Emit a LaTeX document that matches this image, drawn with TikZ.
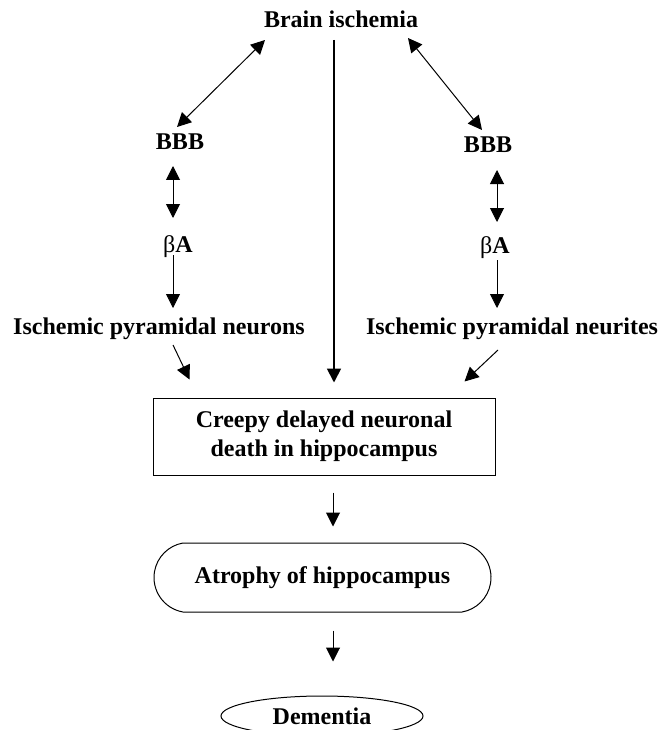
\documentclass[tikz,border=0pt]{standalone}
\usepackage{fontspec}
\setmainfont{Liberation Serif}
\usetikzlibrary{arrows.meta, shapes.geometric, shapes.misc}

\begin{document}
\begin{tikzpicture}[
    x=1pt, y=-1pt,
    font=\fontsize{24}{29}\selectfont\bfseries,
    label/.style={inner sep=0pt, anchor=base},
    box/.style={rectangle, draw, line width=1pt, minimum width=342pt, minimum height=77pt, align=center, inner sep=2pt},
    oval/.style={rounded rectangle, rounded rectangle arc length=160, draw, line width=1pt, minimum width=341pt, minimum height=69pt, inner sep=2pt},
    endoval/.style={ellipse, draw, line width=1pt, minimum width=202pt, minimum height=40pt, inner sep=0pt},
    arrow/.style={-{Triangle[length=14pt, width=14pt]}, line width=1pt},
    dblarrow/.style={{Triangle[length=14pt, width=14pt]}-{Triangle[length=14pt, width=14pt]}, line width=1pt}
]
\useasboundingbox (0,0) rectangle (666,730);

\node[label] (ischemia) at (341,28) {Brain ischemia};
\node[label] (bbbL) at (180,150) {BBB};
\node[label] (bbbR) at (488,153) {BBB};
\node[label] (abL) at (178,252) {{\mdseries β}A};
\node[label] (abR) at (495,253) {{\mdseries β}A};
\node[label] (neuronsL) at (159,334) {Ischemic pyramidal neurons};
\node[label] (neuritesR) at (512,334) {Ischemic pyramidal neurites};
\node[box] (death) at (324,436.5) {Creepy delayed neuronal\\death in hippocampus};
\node[oval] (atrophy) at (322.5,577.5) {Atrophy of hippocampus};
\node[endoval] (dementia) at (322,716) {Dementia};

\draw[dblarrow] ([shift={(-76,12)}]ischemia.base) -- ([shift={(-3,-23)}]bbbL.base);
\draw[dblarrow] ([shift={(67,10)}]ischemia.base) -- ([shift={(-6,-23)}]bbbR.base);
\draw[arrow, line width=1.8pt] ([shift={(-7,12)}]ischemia.base) -- ([shift={(10,-15)}]death.north);
\draw[dblarrow] ([shift={(-7,16)}]bbbL.base) -- ([shift={(-5,-34)}]abL.base);
\draw[dblarrow] ([shift={(9,17)}]bbbR.base) -- ([shift={(2,-31)}]abR.base);
\draw[arrow, line width=0.8pt] ([shift={(-5,3)}]abL.base) -- ([shift={(14,-26)}]neuronsL.base);
\draw[arrow, line width=0.8pt] ([shift={(2,7)}]abR.base) -- ([shift={(-15,-26)}]neuritesR.base);
\draw[arrow] ([shift={(14,11)}]neuronsL.base) -- ([shift={(37,-18)}]death.north west);
\draw[arrow] ([shift={(-14,16)}]neuritesR.base) -- ([shift={(-31,-16)}]death.north east);
\draw[arrow] ([shift={(9,17)}]death.south) -- ([shift={(10.5,-16)}]atrophy.north);
\draw[arrow] ([shift={(10.5,18)}]atrophy.south) -- ([shift={(11,-34)}]dementia.north);

\end{tikzpicture}
\end{document}
